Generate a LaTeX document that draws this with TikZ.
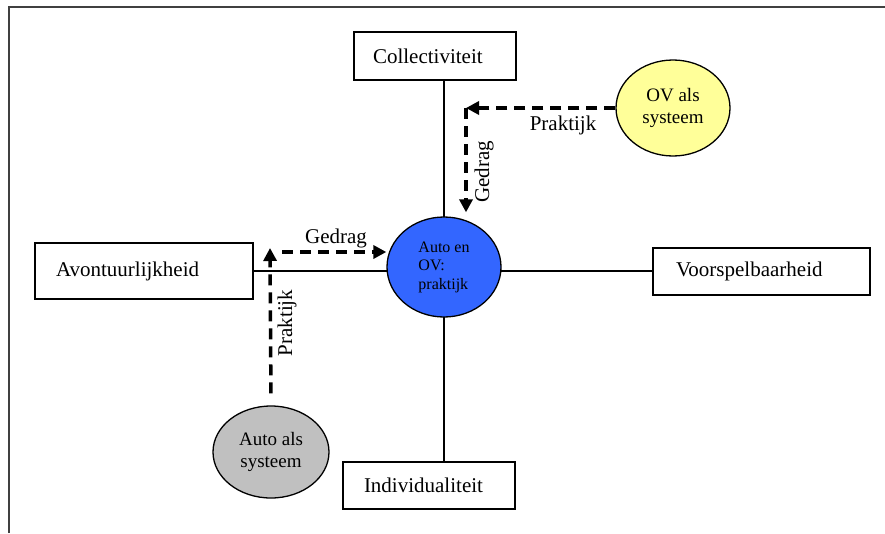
\documentclass[tikz,border=0pt]{standalone}
\usepackage{fontspec}
\setmainfont{Liberation Serif}
\usetikzlibrary{shapes.geometric,arrows.meta,backgrounds}
\definecolor{ctrblue}{RGB}{51,102,255}
\definecolor{ovyellow}{RGB}{255,255,153}
\definecolor{autogray}{RGB}{192,192,192}
\begin{document}
\begin{tikzpicture}[x=1pt,y=-1pt,
  box/.style={draw, line width=1.3pt, align=left, inner ysep=0pt, font=\fontsize{21}{25}\selectfont},
  blob/.style={ellipse, draw, line width=1.3pt, inner sep=0pt},
  conn/.style={line width=1.3pt},
  dasharrow/.style={line width=3.5pt, dash pattern=on 11pt off 7pt, -{Triangle[length=13pt,width=13pt]}},
  lbl/.style={font=\fontsize{21}{25}\selectfont, inner sep=0pt}]
\useasboundingbox (0,0) rectangle (885,533);
\draw[line width=1.5pt, black!75] (9,533) -- (9,7) -- (885,7);

% boxes
\node[box, minimum width=162pt, minimum height=48pt, text width=124pt, inner xsep=19pt] (coll) at (435,56) {Collectiviteit};
\node[box, minimum width=218pt, minimum height=56pt, text width=176pt, inner xsep=21pt] (avon) at (144,271) {Avontuurlijkheid};
\node[box, minimum width=217pt, minimum height=47pt, text width=171pt, inner xsep=23pt] (voor) at (761.5,271.5) {Voorspelbaarheid};
\node[box, minimum width=172pt, minimum height=47pt, text width=130pt, inner xsep=21pt] (indi) at (429,485.5) {Individualiteit};

% ellipses
\node[blob, fill=ctrblue, minimum width=114pt, minimum height=100pt, align=left,
      font=\fontsize{16}{18.5}\selectfont] (ctr) at (444,267) {Auto en\\OV:\\praktijk};
\node[blob, fill=ovyellow, minimum width=114pt, minimum height=96pt, align=center,
      font=\fontsize{19}{22}\selectfont] (ov) at (673,108) {OV als\\systeem};
\node[blob, fill=autogray, minimum width=116pt, minimum height=92pt, align=center,
      font=\fontsize{19}{22}\selectfont] (auto) at (271,452) {Auto als\\systeem};

% solid axes
\begin{scope}[on background layer]
\draw[conn] (ctr |- coll.south) -- (ctr |- indi.north);
\draw[conn] (avon.east) -- (avon.east -| voor.west);
\end{scope}

% dashed arrows
\coordinate (c1) at (466,108);
\coordinate (c2) at (270,248);
\draw[dasharrow] (ov.west) -- (c1);
\draw[dasharrow, shorten >=4pt] (c1) -- (c1 |- ctr.north);
\draw[dasharrow, shorten <=12pt] (auto.north) -- (c2);
\draw[dasharrow, shorten <=12pt] ([yshift=-4pt]c2) -- ([yshift=-4pt]c2 -| ctr.west);

% labels
\node[lbl] (g1) at (336,238) {Gedrag};
\node[lbl, rotate=90] (p1) at (287,323) {Praktijk};
\node[lbl] (p2) at (563,125) {Praktijk};
\node[lbl, rotate=90] (g2) at (484,172) {Gedrag};
\end{tikzpicture}
\end{document}
